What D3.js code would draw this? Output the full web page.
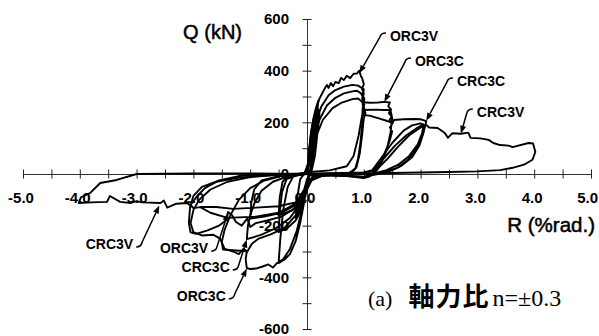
<!DOCTYPE html>
<html>
<head>
<meta charset="utf-8">
<script src="https://cdn.jsdelivr.net/npm/d3@7"></script>
<style>
  html, body { margin: 0; padding: 0; background: #fff; }
  svg { display: block; }
  text { fill: #000; }
</style>
</head>
<body>
<script>
// Shear force Q (kN) versus drift angle R (%rad.) for four specimens
const xTicks = [-5, -4.5, -4, -3.5, -3, -2.5, -2, -1.5, -1, -0.5, 0, 0.5, 1, 1.5, 2, 2.5, 3, 3.5, 4, 4.5, 5];
const xLabelValues = [-5, -4, -3, -2, -1, 0, 1, 2, 3, 4, 5];
const xLabels = ["-5.0", "-4.0", "-3.0", "-2.0", "-1.0", "0.0", "1.0", "2.0", "3.0", "4.0", "5.0"];
const yTicks = [-600, -500, -400, -300, -200, -100, 0, 100, 200, 300, 400, 500, 600];
const yLabelValues = [600, 400, 200, 0, -200, -400, -600];
const yLabels = ["600", "400", "200", "0", "-200", "-400", "-600"];

// Hysteresis records, [R (%rad.), Q (kN)]
const ORC3V = [
  [0,0],[0.03,70],[0.06,140],[0.1,200],[0.15,250],[0.2,285],[0.16,200],[0.1,90],[0.05,10],[0,-40],[-0.08,-120],
  [-0.2,-170],[-0.17,-90],[-0.12,-20],[-0.05,0],[0.02,40],[0.08,150],[0.15,240],[0.22,292],[0.3,326],[0.35,345],
  [0.38,333],[0.42,352],[0.46,340],[0.5,356],
  [0.56,352],[0.6,372],[0.65,364],[0.7,380],[0.76,371],[0.82,388],[0.88,389],[0.92,400],[0.95,378],[0.97,372],[1.0,348],
  [0.97,330],[1.0,310],[0.97,292],[1.01,270],[0.98,255],
  [0.97,190],[0.94,120],[0.9,60],[0.85,20],[0.78,5],[0.5,-2],[0.2,-5],[0.05,-30],[-0.05,-80],[-0.2,-130],[-0.45,-165],[-0.7,-180],
  [-0.9,-190],[-1.0,-205],[-1.05,-172],[-1.15,-200],[-1.25,-186],[-1.32,-160],[-1.39,-147],[-1.42,-178],[-1.55,-200],
  [-1.75,-218],[-1.95,-232],[-2.05,-226],[-2.08,-190],[-2.06,-130],[-2.0,-85],[-1.85,-50],[-1.6,-30],[-1.2,-14],[-0.7,-5],
  [-0.3,0],[0,3]
];
const ORC3C = [
  [0,0],[0.03,80],[0.07,160],[0.12,220],[0.18,260],[0.15,190],[0.1,80],[0.06,10],[0,-40],
  [-0.05,-110],[-0.12,-190],[-0.2,-260],[-0.3,-310],[-0.4,-332],[-0.5,-345],
  [-0.47,-250],[-0.42,-140],[-0.34,-50],[-0.24,-8],[-0.05,0],[0.02,30],[0.07,110],[0.14,190],[0.25,260],[0.38,305],
  [0.5,325],[0.65,338],[0.8,345],[0.9,342],[1.0,328],[0.98,305],[1.01,290],[1.0,278],[1.1,276],[1.25,277],[1.36,279],
  [1.46,277],[1.43,262],[1.48,250],[1.44,236],[1.49,222],[1.45,208],[1.5,195],[1.46,180],[1.5,165],[1.45,125],[1.37,75],
  [1.28,30],[1.2,5],[1.1,-10],[1.0,-16],[0.7,-8],[0.3,-4],[0.08,-25],[0,-60],[-0.08,-130],[-0.18,-220],[-0.3,-290],
  [-0.42,-330],[-0.53,-345],[-0.6,-362],[-0.68,-350],[-0.78,-358],[-0.9,-366],[-1.0,-368],[-1.06,-364],[-1.08,-330],
  [-1.06,-300],[-1.1,-298],[-1.25,-296],[-1.38,-294],[-1.48,-292],[-1.5,-262],[-1.45,-215],[-1.35,-160],[-1.2,-100],
  [-1.0,-55],[-0.75,-25],[-0.45,-8],[-0.15,0],[0.05,8],[0.4,14],[0.7,30],[0.82,70],[0.91,150],[0.96,215],[1.0,248],
  [1.2,249],[1.35,248],[1.47,248],[1.5,215],[1.47,160],[1.42,110],[1.33,60],[1.25,25],[1.15,0],[1.05,-12]
];
const CRC3C = [
  [0,0],[0.04,90],[0.09,170],[0.15,225],[0.2,250],[0.17,180],[0.12,80],[0.07,10],[0,-30],
  [-0.05,-90],[-0.1,-140],[-0.2,-180],[-0.35,-210],[-0.5,-225],
  [-0.48,-150],[-0.44,-70],[-0.36,-20],[-0.15,-3],[0,5],[0.05,60],[0.12,140],[0.22,210],[0.35,265],[0.5,295],[0.65,312],
  [0.8,320],[0.88,322],[0.95,312],[1.0,292],[0.98,268],[1.02,245],[0.99,228],[1.1,226],[1.25,216],[1.4,206],[1.51,198],
  [1.53,209],[1.7,212],[1.9,213],[2.0,212],[2.1,205],[2.08,185],[2.02,140],[1.92,95],[1.78,55],[1.6,25],[1.4,8],
  [1.2,0],[1.0,-12],[0.6,-6],[0.2,-4],[0.05,-30],[-0.1,-110],[-0.3,-170],[-0.55,-210],[-0.8,-235],[-0.95,-245],
  [-1.06,-252],[-1.04,-200],[-1.0,-160],[-0.92,-110],[-0.8,-65],[-0.6,-30],[-0.35,-10],[0,0],[0.5,3],[1.0,5],
  [1.15,10],[1.35,60],[1.55,110],[1.75,150],[1.95,180],[2.05,192],[2.03,160],[1.95,115],[1.8,70],[1.6,35],[1.4,15],
  [1.2,3],[1.0,-12],[0.6,-6],[0.2,-4],[0.05,-30],[-0.05,-90],[-0.2,-160],[-0.4,-210],[-0.65,-235],[-0.85,-250],
  [-0.97,-270],[-1.05,-300],[-1.12,-290],[-1.2,-310],[-1.3,-300],[-1.45,-290],[-1.53,-250],[-1.65,-235],[-1.85,-238],
  [-2.0,-225],[-2.05,-190],[-2.0,-140],[-1.9,-100],[-1.7,-60],[-1.4,-30],[-1.0,-12],[-0.5,-3],[0,0]
];
const CRC3V = [
  [0,0],[0.04,80],[0.1,160],[0.17,215],[0.22,235],[0.19,170],[0.14,70],[0.08,10],[0,-20],
  [-0.05,-60],[-0.12,-105],[-0.25,-140],[-0.5,-160],
  [-0.48,-90],[-0.43,-30],[-0.32,-5],[0,3],[0.06,60],[0.15,140],[0.28,210],[0.45,255],[0.6,275],[0.8,290],[0.9,292],
  [0.97,280],[1.0,258],[1.03,235],[1.0,215],[0.97,150],[0.93,80],[0.87,25],[0.75,5],[0.3,0],[0.05,-5],[-0.05,-60],
  [-0.2,-120],[-0.45,-150],[-0.75,-165],[-1.0,-172],[-0.98,-110],[-0.93,-60],[-0.8,-25],[-0.5,-8],[-0.1,0],[0.5,3],
  [1.0,6],[1.15,15],[1.3,60],[1.5,120],[1.7,168],[1.85,188],[2.0,196],[2.07,188],[2.05,160],[1.98,110],[1.85,65],
  [1.65,30],[1.45,10],[1.25,0],[1.0,-10],[0.5,-5],[0.1,-10],[-0.05,-60],[-0.2,-115],[-0.5,-150],[-0.9,-165],[-1.4,-170],
  [-1.7,-150],[-1.88,-128],[-2.0,-132],[-2.05,-120],[-1.95,-90],[-1.8,-55],[-1.55,-25],[-1.2,-8],[-0.6,0],[0,0],
  [0.6,3],[1.0,6],[1.2,12],[1.4,55],[1.6,105],[1.8,150],[2.0,180],[2.1,190],[2.15,180],[2.3,178],[2.42,160],[2.45,151],
  [2.48,140],[2.56,158],[2.71,156],[2.84,160],[2.88,140],[3.05,138],[3.2,132],[3.28,120],[3.4,112],[3.55,110],[3.62,104],
  [3.9,120],[3.98,118],[4.02,85],[3.97,55],[3.82,36],[3.62,24],[3.4,15],[3.0,10],[2.5,8],[2.0,6],[1.5,4],[1.0,0],
  [0.3,-5],[0.05,-20],[-0.05,-70],[-0.2,-110],[-0.5,-125],[-0.9,-130],[-1.3,-135],[-1.6,-128],[-1.88,-128],[-2.0,-132],
  [-2.11,-112],[-2.3,-115],[-2.46,-130],[-2.52,-103],[-2.58,-112],[-2.9,-110],[-3.0,-105],[-3.1,-112],[-3.29,-108],
  [-3.47,-85],[-3.52,-108],[-3.8,-110],[-4.02,-112],[-3.98,-90],[-3.82,-74],[-3.64,-35],[-3.35,-23],[-3.0,0],
  [-2.0,2],[-1.0,2],[0,0]
];
const seriesList = [ORC3V, ORC3C, CRC3C, CRC3V];

// Specimen callouts: label anchor and arrow tip, both in data units
const callouts = [
  { name: "ORC3V", side: "pos", label: [1.46, 534], tip: [0.92, 390] },
  { name: "ORC3C", side: "pos", label: [1.90, 437], tip: [1.36, 279] },
  { name: "CRC3C", side: "pos", label: [2.64, 360], tip: [2.10, 206] },
  { name: "CRC3V", side: "pos", label: [2.99, 240], tip: [2.71, 156] },
  { name: "CRC3V", side: "neg", label: [-3.06, -271], tip: [-2.6, -122] },
  { name: "ORC3V", side: "neg", label: [-1.74, -287], tip: [-1.39, -150] },
  { name: "CRC3C", side: "neg", label: [-1.36, -360], tip: [-1.06, -254] },
  { name: "ORC3C", side: "neg", label: [-1.43, -472], tip: [-1.06, -366] }
];

const W = 599, H = 336;
const svg = d3.select("body").append("svg").attr("width", W).attr("height", H);

const x = d3.scaleLinear().domain([-5, 5]).range([23, 591]);
const y = d3.scaleLinear().domain([-600, 600]).range([329, 19]);

const sansBold = "'Liberation Sans', Arial, sans-serif";

// X axis with ticks crossing the line
const gx = svg.append("g")
  .attr("transform", `translate(0,${y(0)})`)
  .call(d3.axisBottom(x).tickValues(xTicks).tickSizeOuter(0).tickSize(0).tickFormat(""));
gx.select(".domain").attr("stroke", "#333").attr("stroke-width", 1);
gx.selectAll(".tick line").attr("y1", -4.5).attr("y2", 4.5).attr("stroke", "#222");

const lastX = xLabelValues.length - 1;
svg.append("g").selectAll("text").data(xLabelValues).join("text")
  .attr("x", (d, i) => i === lastX ? W - 1 : x(d) - 2)
  .attr("y", y(0) + 24)
  .attr("dy", "0.35em")
  .attr("text-anchor", (d, i) => i === lastX ? "end" : "middle")
  .attr("font-family", sansBold).attr("font-weight", "bold").attr("font-size", 15)
  .text((d, i) => xLabels[i]);

// Y axis
const gy = svg.append("g")
  .attr("transform", `translate(${x(0)},0)`)
  .call(d3.axisLeft(y).tickValues(yTicks).tickSizeOuter(0).tickSize(0).tickFormat(""));
gy.select(".domain").attr("stroke", "#333").attr("stroke-width", 1);
gy.selectAll(".tick line").attr("x1", -4.5).attr("x2", 4.5).attr("stroke", "#222");

svg.append("g").selectAll("text").data(yLabelValues).join("text")
  .attr("x", x(0) - 18)
  .attr("y", d => y(d))
  .attr("dy", "0.35em")
  .attr("text-anchor", "end")
  .attr("font-family", sansBold).attr("font-weight", "bold").attr("font-size", 15)
  .text((d, i) => yLabels[i]);

// Axis titles
svg.append("text")
  .attr("x", 242).attr("y", 32).attr("dy", "0.35em")
  .attr("text-anchor", "end")
  .attr("font-family", sansBold).attr("font-size", 20)
  .attr("stroke", "#000").attr("stroke-width", 0.5)
  .text("Q (kN)");
svg.append("text")
  .attr("x", 595).attr("y", 225).attr("dy", "0.35em")
  .attr("text-anchor", "end")
  .attr("font-family", sansBold).attr("font-size", 20.5)
  .attr("stroke", "#000").attr("stroke-width", 0.5)
  .text("R (%rad.)");

// Hysteresis curves
const line = d3.line().x(d => x(d[0])).y(d => y(d[1]));
svg.append("g").selectAll("path").data(seriesList).join("path")
  .attr("d", line)
  .attr("fill", "none")
  .attr("stroke", "#000")
  .attr("stroke-width", 1.9)
  .attr("stroke-linejoin", "round")
  .attr("stroke-linecap", "round");

// Callouts
const gc = svg.append("g");
callouts.forEach(c => {
  const lx = x(c.label[0]), ly = y(c.label[1]);
  const tx = x(c.tip[0]), ty = y(c.tip[1]);
  let sx, sy, hook;
  if (c.side === "pos") {
    sx = lx - 10; sy = ly + 1;
    hook = `M${lx - 4},${ly - 3}Q${lx - 9},${ly - 3} ${sx},${sy}`;
  } else {
    sx = lx + 9; sy = ly - 2;
    hook = `M${lx + 3},${ly + 3}Q${lx + 8},${ly + 3} ${sx},${sy}`;
  }
  const ang = Math.atan2(ty - sy, tx - sx);
  const len = 8, half = 3;
  const bx = tx - len * Math.cos(ang), by = ty - len * Math.sin(ang);
  gc.append("path")
    .attr("d", `${hook}L${bx},${by}`)
    .attr("fill", "none").attr("stroke", "#000").attr("stroke-width", 1.5);
  const px = -Math.sin(ang), py = Math.cos(ang);
  gc.append("path")
    .attr("d", `M${tx},${ty}L${bx + px * half},${by + py * half}L${bx - px * half},${by - py * half}Z`)
    .attr("fill", "#000");
  gc.append("text")
    .attr("x", lx).attr("y", ly).attr("dy", "0.35em")
    .attr("text-anchor", c.side === "pos" ? "start" : "end")
    .attr("font-family", sansBold).attr("font-weight", "bold").attr("font-size", 14)
    .text(c.name);
});

// Caption
const cap = svg.append("text")
  .attr("x", 368).attr("y", 300).attr("dy", "0.35em");
cap.append("tspan")
  .attr("font-family", "'Liberation Serif', 'Times New Roman', serif").attr("font-size", 22)
  .text("(a)");
cap.append("tspan")
  .attr("dx", 16)
  .attr("font-family", "'Noto Sans CJK JP', sans-serif").attr("font-weight", "bold").attr("font-size", 26)
  .attr("letter-spacing", 1)
  .text("軸力比");
cap.append("tspan")
  .attr("dx", 3)
  .attr("font-family", "'Liberation Serif', 'Times New Roman', serif").attr("font-size", 24)
  .text("n=±0.3");
</script>
</body>
</html>
